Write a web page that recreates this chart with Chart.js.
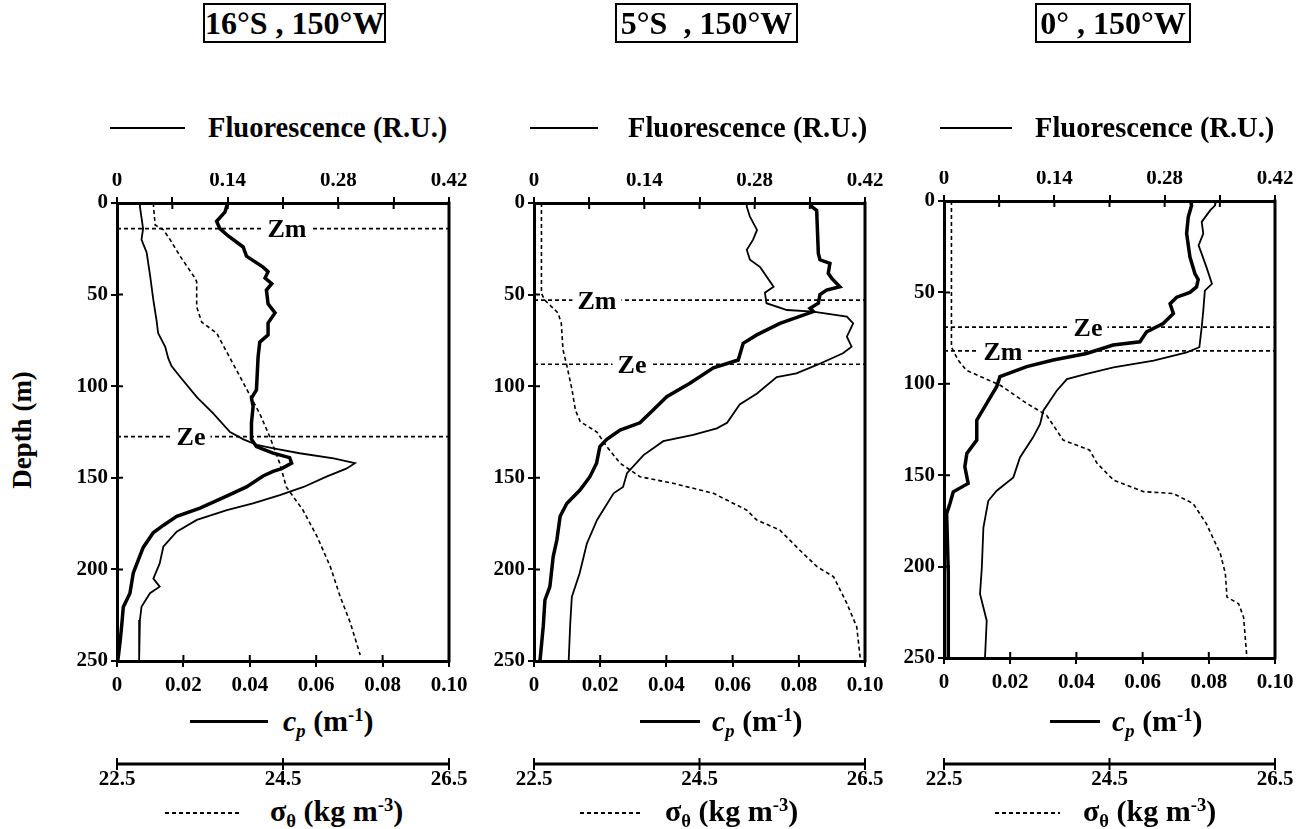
<!DOCTYPE html>
<html>
<head>
<meta charset="utf-8">
<script src="https://cdn.jsdelivr.net/npm/chart.js@4.4.1/dist/chart.umd.min.js"></script>
<style>
  body { margin: 0; background: #fff; width: 1306px; height: 829px; position: relative; overflow: hidden;
         font-family: "Liberation Serif", "Times New Roman", serif; font-weight: bold; color: #000; }
  canvas { position: absolute; left: 0; top: 0; }
  .title { position: absolute; top: 3px; height: 40px; box-sizing: border-box; border: 2px solid #000;
           font-size: 32px; line-height: 36px; text-align: center; white-space: pre; }
  .txt { position: absolute; white-space: nowrap; line-height: 34px; height: 34px; }
  .key { position: absolute; height: 2px; background: #000; }
  .key.dash { background: repeating-linear-gradient(90deg, #000 0 4px, transparent 4px 7px); }
  .sub, .sup { font-size: 0.62em; position: relative; }
  .sub { top: 0.3em; }
  .sup { top: -0.55em; }
  #depth { position: absolute; left: 22px; top: 430px; font-size: 27px; white-space: nowrap;
           transform: translate(-50%, -50%) rotate(-90deg); }
</style>
</head>
<body>
<div id="depth">Depth (m)</div>
<script>
// ---- 16°S, 150°W ----
const cp16Depth = [0, 2, 5, 10, 14, 18, 24, 29, 35, 37.5, 41, 44, 47.5, 55, 60, 65.5, 72, 76, 84, 102, 106.5, 111, 120, 129, 133, 136.5, 139, 142, 145, 146.5, 149, 155, 160, 166.5, 171, 176, 180, 188, 195, 202, 213, 220.5, 231, 240, 247.5, 250];
const cp16 = [0.0335, 0.033, 0.0325, 0.030, 0.031, 0.0335, 0.038, 0.039, 0.044, 0.0455, 0.0446, 0.0466, 0.045, 0.0455, 0.0476, 0.0455, 0.0455, 0.043, 0.0425, 0.042, 0.0405, 0.041, 0.0405, 0.0405, 0.042, 0.047, 0.052, 0.0526, 0.0496, 0.047, 0.044, 0.039, 0.033, 0.025, 0.018, 0.0139, 0.0109, 0.0079, 0.0064, 0.0049, 0.0039, 0.0019, 0.0014, 0.0009, 0.0004, 0.0002];
const fl16Depth = [0, 2, 8, 14, 20, 27, 40, 53, 64, 71, 78.5, 85, 89, 95, 106, 115, 125, 129, 132, 134, 136.6, 139.4, 142, 145, 149.4, 155, 159.4, 164, 167.6, 173, 179.4, 187.6, 196.7, 205, 209.4, 213, 220.4, 227.6, 250];
const fl16 = [0.029, 0.029, 0.031, 0.033, 0.031, 0.0375, 0.042, 0.046, 0.050, 0.052, 0.061, 0.065, 0.069, 0.080, 0.101, 0.122, 0.143, 0.160, 0.177, 0.198, 0.231, 0.274, 0.301, 0.29, 0.265, 0.236, 0.206, 0.172, 0.139, 0.101, 0.0755, 0.0586, 0.054, 0.046, 0.054, 0.0417, 0.031, 0.029, 0.028];
const sg16Depth = [0, 2, 12, 14.7, 20, 29, 41, 43, 56.6, 65, 71, 82, 98, 115, 127.5, 142, 155, 167.6, 182, 198.5, 215, 229, 246.7];
const sg16 = [22.94, 22.94, 22.96, 23.06, 23.14, 23.26, 23.44, 23.46, 23.46, 23.52, 23.70, 23.83, 24.02, 24.22, 24.34, 24.46, 24.54, 24.74, 24.91, 25.07, 25.19, 25.31, 25.43];
const zm16 = 14, ze16 = 127.5;

// ---- 5°S, 150°W ----
const cp5Depth = [0, 2, 4, 27.5, 31, 33, 38.4, 41, 45.7, 47.5, 50, 54.7, 57.5, 59.3, 65.7, 72, 76.6, 85.7, 90, 98.4, 105.7, 113, 120, 124, 129, 133, 142, 149.4, 156.7, 164, 171, 184, 193, 209.4, 216.7, 231, 250];
const cp5 = [0.0835, 0.0839, 0.0854, 0.0859, 0.0864, 0.0894, 0.0889, 0.0899, 0.0924, 0.0884, 0.0864, 0.0859, 0.0834, 0.0844, 0.0743, 0.0673, 0.0632, 0.0617, 0.0542, 0.0471, 0.0401, 0.0360, 0.0320, 0.0260, 0.0220, 0.0199, 0.0189, 0.0169, 0.0139, 0.0099, 0.0079, 0.0069, 0.0058, 0.0048, 0.0033, 0.0028, 0.0018];
const fl5Depth = [0, 2, 7.5, 14.7, 20, 25.6, 31, 35, 45.7, 49, 54.7, 58.4, 59.3, 62, 65.7, 73, 78.4, 82, 88.4, 93, 95, 104, 110, 120, 123, 126.6, 130, 137.6, 147.5, 155, 158.5, 173, 186, 202, 215, 229.4, 250];
const fl5 = [0.27, 0.27, 0.274, 0.283, 0.278, 0.27, 0.274, 0.287, 0.304, 0.293, 0.295, 0.321, 0.354, 0.397, 0.405, 0.397, 0.403, 0.392, 0.359, 0.333, 0.308, 0.283, 0.261, 0.245, 0.232, 0.202, 0.164, 0.139, 0.118, 0.113, 0.101, 0.080, 0.067, 0.058, 0.048, 0.046, 0.044];
const sg5Depth = [0, 2, 49.3, 53, 60, 65.7, 80, 89.4, 102, 113, 119.4, 125, 133, 142, 149.4, 153, 158.5, 167.6, 173, 178.5, 189.4, 198.5, 204, 218.5, 231.3, 247.6, 250];
const sg5 = [22.59, 22.59, 22.59, 22.63, 22.79, 22.83, 22.85, 22.90, 22.96, 23.00, 23.06, 23.26, 23.38, 23.54, 23.78, 24.18, 24.67, 25.07, 25.19, 25.47, 25.71, 25.92, 26.12, 26.28, 26.40, 26.44, 26.44];
const zm5 = 53, ze5 = 88;

// ---- 0°, 150°W ----
const cp0Depth = [0, 2.4, 8.7, 17.8, 30.6, 39.7, 43, 47, 50, 52.6, 56.2, 61.6, 67, 71.6, 77, 78.8, 83.4, 87, 90.6, 96.1, 101.6, 110.7, 119.9, 130.8, 138.1, 145.4, 154.5, 159.1, 165.5, 171, 203.8, 250];
const cp0 = [0.0745, 0.0748, 0.0738, 0.0733, 0.0743, 0.0758, 0.0768, 0.0763, 0.0743, 0.0703, 0.0683, 0.0693, 0.0662, 0.0612, 0.0592, 0.0511, 0.0431, 0.0330, 0.0250, 0.0169, 0.0159, 0.0129, 0.0099, 0.0099, 0.0069, 0.0063, 0.0073, 0.0028, 0.0018, 0.0008, 0.0013, 0.0013];
const fl0Depth = [0, 2.4, 5, 11.4, 17.8, 24.3, 28.9, 36.2, 45.3, 49, 60, 69, 80, 82.8, 87.3, 91, 94.6, 97.4, 103.8, 114.7, 122, 129.3, 140.3, 151.2, 158.5, 164, 178.6, 200.5, 215, 229.6, 250];
const fl0 = [0.345, 0.344, 0.338, 0.327, 0.329, 0.323, 0.327, 0.333, 0.34, 0.331, 0.329, 0.327, 0.324, 0.308, 0.266, 0.215, 0.181, 0.156, 0.143, 0.126, 0.122, 0.113, 0.0964, 0.088, 0.0669, 0.0562, 0.050, 0.048, 0.0457, 0.0542, 0.052];
const sg0Depth = [0, 1.4, 80, 87, 92.6, 100.8, 110.7, 117.2, 130.8, 136.3, 143.5, 152.7, 159, 160, 165.5, 176.5, 193, 203.8, 216.7, 220.3, 227.6, 249.5];
const sg0 = [22.59, 22.59, 22.59, 22.67, 22.77, 23.18, 23.50, 23.74, 23.94, 24.26, 24.35, 24.55, 24.91, 25.27, 25.51, 25.67, 25.84, 25.90, 25.92, 26.06, 26.12, 26.16];
const ze0 = 69, zm0 = 82;

// shared axis ticks
const sigmaTicks = [22.5, 24.5, 26.5];

const FONT = '"Liberation Serif", "Times New Roman", serif';
const PAGE_W = 1306, PAGE_H = 829;
const SIGMA_AXIS_Y = 764;

// frame of each panel, label anchors (cp units) and key positions
const panels = [
  { title: '16°S , 150°W', box: [203, 183],
    area: { left: 117, right: 449, top: 203, bottom: 661 },
    cpD: cp16Depth, cp: cp16, flD: fl16Depth, fl: fl16, sgD: sg16Depth, sg: sg16,
    marks: [['Zm', zm16, 0.0512], ['Ze', ze16, 0.0223]],
    keys: { fl: [110, 185, 208], cp: [190, 268, 283], sg: [165, 240, 270] } },
  { title: '5°S  , 150°W', box: [615, 183],
    area: { left: 534, right: 865, top: 203, bottom: 661 },
    cpD: cp5Depth, cp: cp5, flD: fl5Depth, fl: fl5, sgD: sg5Depth, sg: sg5,
    marks: [['Zm', zm5, 0.019], ['Ze', ze5, 0.0296]],
    keys: { fl: [530, 598, 628], cp: [640, 700, 712], sg: [580, 640, 665] } },
  { title: '0° , 150°W', box: [1035, 156],
    area: { left: 944, right: 1275, top: 201, bottom: 658 },
    cpD: cp0Depth, cp: cp0, flD: fl0Depth, fl: fl0, sgD: sg0Depth, sg: sg0,
    marks: [['Ze', ze0, 0.0435], ['Zm', zm0, 0.0178]],
    keys: { fl: [940, 1012, 1035], cp: [1050, 1100, 1112], sg: [995, 1060, 1083] } }
];

function addDiv(cls, html, style) {
  const d = document.createElement('div');
  d.className = cls;
  d.innerHTML = html;
  Object.assign(d.style, style);
  document.body.appendChild(d);
  return d;
}

// titles and keys
function addLabels(p) {
  addDiv('title', p.title, { left: p.box[0] + 'px', width: p.box[1] + 'px' });
  const k = p.keys;
  addDiv('key', '', { left: k.fl[0] + 'px', width: (k.fl[1] - k.fl[0]) + 'px', top: '127px' });
  addDiv('txt', 'Fluorescence (R.U.)', { left: k.fl[2] + 'px', top: '111px', fontSize: '28.5px' });
  addDiv('key', '', { left: k.cp[0] + 'px', width: (k.cp[1] - k.cp[0]) + 'px', top: '720px', height: '3px' });
  addDiv('txt', '<i>c<span class="sub">p</span></i> (m<span class="sup">-1</span>)',
    { left: k.cp[2] + 'px', top: '704px', fontSize: '30px' });
  addDiv('key dash', '', { left: k.sg[0] + 'px', width: (k.sg[1] - k.sg[0]) + 'px', top: '812px' });
  addDiv('txt', 'σ<span class="sub">θ</span> (kg m<span class="sup">-3</span>)',
    { left: k.sg[2] + 'px', top: '794px', fontSize: '30px' });
}

// frame, inward ticks, Zm/Ze labels and the sigma-theta axis
function panelExtras(p) {
  return {
    id: 'panelExtras',
    afterDraw(chart) {
      const { ctx, chartArea: ca, scales } = chart;
      ctx.save();
      ctx.strokeStyle = '#000';
      ctx.fillStyle = '#000';

      ctx.lineWidth = 2;
      ctx.beginPath();
      scales.x.ticks.forEach((t, i) => {
        const px = scales.x.getPixelForTick(i);
        ctx.moveTo(px, ca.bottom); ctx.lineTo(px, ca.bottom - 6);
      });
      scales.xf.ticks.forEach((t, i) => {
        const px = scales.xf.getPixelForTick(i);
        ctx.moveTo(px, ca.top); ctx.lineTo(px, ca.top + 6);
      });
      scales.y.ticks.forEach((t, i) => {
        const py = scales.y.getPixelForTick(i);
        ctx.moveTo(ca.left, py); ctx.lineTo(ca.left + 6, py);
      });
      ctx.stroke();

      ctx.lineWidth = 3;
      ctx.beginPath();
      ctx.moveTo(ca.right, ca.top - 1.5); ctx.lineTo(ca.right, ca.bottom + 1.5);
      ctx.stroke();

      ctx.font = 'bold 26px ' + FONT;
      ctx.textAlign = 'center';
      ctx.textBaseline = 'middle';
      p.marks.forEach(([name, depth, at]) => {
        const x = scales.x.getPixelForValue(at);
        const y = scales.y.getPixelForValue(depth);
        const w = ctx.measureText(name).width;
        ctx.fillStyle = '#fff';
        ctx.fillRect(x - w / 2 - 5, y - 8, w + 10, 16);
        ctx.fillStyle = '#000';
        ctx.fillText(name, x, y + 2);
      });

      const xs = scales.xs;
      const y0 = SIGMA_AXIS_Y;
      ctx.lineWidth = 3;
      ctx.beginPath();
      ctx.moveTo(xs.getPixelForValue(sigmaTicks[0]), y0);
      ctx.lineTo(xs.getPixelForValue(sigmaTicks[sigmaTicks.length - 1]), y0);
      ctx.stroke();
      ctx.lineWidth = 2;
      ctx.beginPath();
      sigmaTicks.forEach(v => {
        const px = xs.getPixelForValue(v);
        ctx.moveTo(px, y0 - 6); ctx.lineTo(px, y0 + 6);
      });
      ctx.stroke();
      ctx.font = 'bold 21px ' + FONT;
      sigmaTicks.forEach(v => ctx.fillText(v.toFixed(1), xs.getPixelForValue(v), y0 + 16));
      ctx.restore();
    }
  };
}

function buildChart(p) {
  const cvs = document.createElement('canvas');
  cvs.width = PAGE_W; cvs.height = PAGE_H;
  document.body.appendChild(cvs);
  const a = p.area;
  const pts = (ds, vs) => ds.map((d, i) => ({ x: vs[i], y: d }));
  const hline = d => [{ x: 0, y: d }, { x: 0.1, y: d }];
  const tickFont = { family: FONT, weight: 'bold', size: 21 };
  const grid = { drawOnChartArea: false, drawTicks: true, tickLength: 6, color: '#000', lineWidth: 2 };
  const border = { display: true, color: '#000', width: 3 };
  const fmt = v => (v === 0 ? '0' : v.toFixed(2));

  return new Chart(cvs, {
    type: 'line',
    data: {
      datasets: [
        { label: 'cp', data: pts(p.cpD, p.cp), xAxisID: 'x', borderColor: '#000', borderWidth: 3.5 },
        { label: 'Fluorescence', data: pts(p.flD, p.fl), xAxisID: 'xf', borderColor: '#000', borderWidth: 1.8 },
        { label: 'sigma', data: pts(p.sgD, p.sg), xAxisID: 'xs', borderColor: '#000', borderWidth: 1.6, borderDash: [4, 3] },
        ...p.marks.map(m => ({ label: m[0], data: hline(m[1]), xAxisID: 'x', borderColor: '#000', borderWidth: 1.6, borderDash: [4, 3] }))
      ]
    },
    options: {
      responsive: false,
      animation: false,
      devicePixelRatio: 1,
      layout: { padding: { left: a.left - 40, right: PAGE_W - a.right, top: a.top - 30, bottom: PAGE_H - a.bottom - 35 } },
      elements: { line: { tension: 0, fill: false }, point: { radius: 0 } },
      plugins: { legend: { display: false }, tooltip: { enabled: false }, colors: { enabled: false } },
      scales: {
        x: {
          type: 'linear', position: 'bottom', min: 0, max: 0.1,
          afterFit: s => { s.height = 35; },
          ticks: { stepSize: 0.02, autoSkip: false, maxRotation: 0, font: tickFont, color: '#000', padding: 6, callback: fmt },
          grid, border
        },
        xf: {
          type: 'linear', position: 'top', min: 0, max: 0.42,
          afterFit: s => { s.height = 30; },
          ticks: { stepSize: 0.07, autoSkip: false, maxRotation: 0, font: tickFont, color: '#000', padding: 4,
                   callback: (v, i) => (i % 2 ? '' : fmt(v)) },
          grid, border
        },
        xs: { type: 'linear', display: false, min: 22.5, max: 26.5 },
        y: {
          type: 'linear', reverse: true, min: 0, max: 250,
          afterFit: s => { s.width = 40; },
          ticks: { stepSize: 50, autoSkip: false, font: tickFont, color: '#000', padding: 3 },
          grid, border
        }
      }
    },
    plugins: [panelExtras(p)]
  });
}

panels.forEach(p => { addLabels(p); buildChart(p); });
</script>
</body>
</html>
